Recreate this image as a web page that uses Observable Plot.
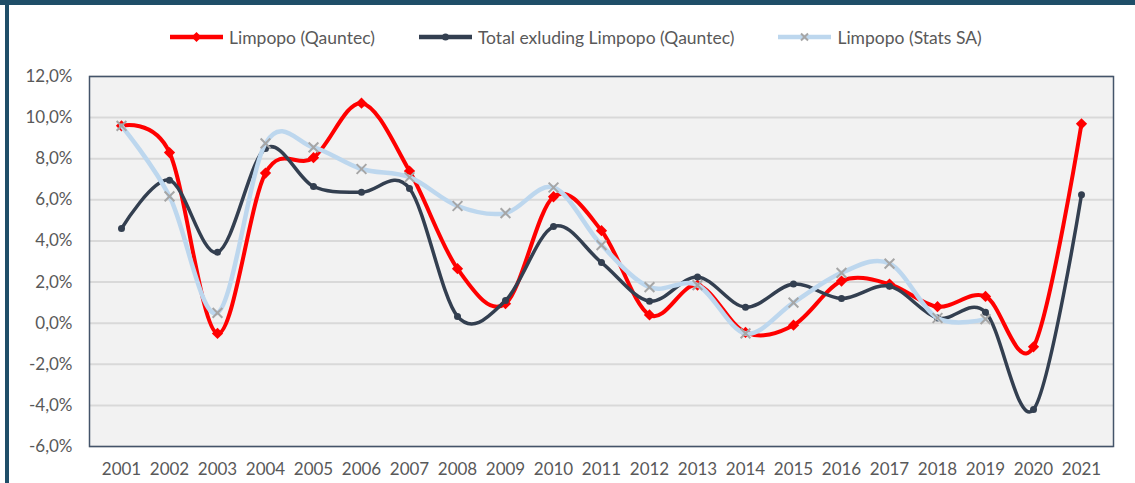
<!DOCTYPE html>
<html>
<head>
<meta charset="utf-8">
<script src="https://cdn.jsdelivr.net/npm/d3@7"></script>
<script src="https://cdn.jsdelivr.net/npm/@observablehq/plot@0.6"></script>
<style>
  html, body { margin: 0; padding: 0; background: #fff; }
  body { width: 1135px; height: 483px; position: relative; overflow: hidden; font-family: Lato, "Open Sans", sans-serif; }
  #topbar { position: absolute; left: 0; top: 0; width: 1135px; height: 5px; background: #1f4e68; }
  #leftbar { position: absolute; left: 5px; top: 0; width: 4px; height: 483px; background: #1f4e68; }
  #legend { position: absolute; left: 170px; top: 26px; height: 22px; display: flex; align-items: center; gap: 44px; font-size: 17.5px; color: #595959; }
  .item { display: flex; align-items: center; gap: 6px; white-space: nowrap; }
  #chart { position: absolute; left: 0; top: 60px; }
</style>
</head>
<body>
<div id="topbar"></div>
<div id="leftbar"></div>
<div id="legend"></div>
<div id="chart"></div>
<script>
const years = ["2001","2002","2003","2004","2005","2006","2007","2008","2009","2010","2011","2012","2013","2014","2015","2016","2017","2018","2019","2020","2021"];
const limpopoQauntec = [9.6, 8.3, -0.5, 7.3, 8.05, 10.7, 7.4, 2.65, 0.95, 6.15, 4.5, 0.4, 1.85, -0.45, -0.1, 2.05, 1.9, 0.8, 1.3, -1.15, 9.7];
const totalExLimpopo = [4.6, 6.95, 3.45, 8.5, 6.65, 6.37, 6.55, 0.33, 1.1, 4.7, 2.95, 1.07, 2.25, 0.78, 1.9, 1.2, 1.8, 0.25, 0.53, -4.2, 6.25];
const limpopoStatsSA = [9.6, 6.17, 0.5, 8.75, 8.55, 7.5, 7.1, 5.7, 5.35, 6.6, 3.8, 1.75, 1.85, -0.5, 1.0, 2.45, 2.9, 0.25, 0.2, null, null];
const seriesNames = ["Limpopo (Qauntec)", "Total exluding Limpopo (Qauntec)", "Limpopo (Stats SA)"];
const yTicks = [-6, -4, -2, 0, 2, 4, 6, 8, 10, 12];

const colors = ["#ff0000", "#333f50", "#bdd7ee"];
const seriesValues = [limpopoQauntec, totalExLimpopo, limpopoStatsSA];
const data = [];
seriesNames.forEach((name, si) => {
  years.forEach((yr, i) => {
    const v = seriesValues[si][i];
    if (v != null) data.push({series: name, year: yr, value: v});
  });
});
const bySeries = name => data.filter(d => d.series === name);

// Legend
const legend = document.getElementById("legend");
const swatchMarker = [
  '<path d="M26.5,-5 L31.5,0 L26.5,5 L21.5,0 Z" fill="#ff0000"/>',
  '<circle cx="26.5" cy="0" r="3.5" fill="#333f50"/>',
  '<path d="M23,-3.5 L30,3.5 M23,3.5 L30,-3.5" stroke="#a6a6a6" stroke-width="2"/>'
];
seriesNames.forEach((name, i) => {
  const it = document.createElement("div");
  it.className = "item";
  it.innerHTML = `<svg width="53" height="14" viewBox="0 -7 53 14"><line x1="0" x2="53" y1="0" y2="0" stroke="${colors[i]}" stroke-width="4.5"/>${swatchMarker[i]}</svg><span>${name}</span>`;
  legend.appendChild(it);
});

const fmt = d => d.toFixed(1).replace(".", ",") + "%";

const chart = Plot.plot({
  width: 1135,
  height: 423,
  marginTop: 16,
  marginBottom: 37,
  marginLeft: 89,
  marginRight: 22,
  style: { fontFamily: "Lato, 'Open Sans', sans-serif", fontSize: "17px", color: "#595959", background: "transparent" },
  x: { type: "point", domain: years, padding: 0.5, label: null },
  y: { domain: [-6, 12], label: null },
  marks: [
    Plot.frame({ fill: "#f2f2f2", stroke: null }),
    Plot.gridY(yTicks, { stroke: "#d9d9d9", strokeOpacity: 1, strokeWidth: 2 }),
    Plot.frame({ stroke: "#44546a", strokeWidth: 1.5 }),
    Plot.axisX({ tickSize: 0, tickPadding: 16, fill: "#595959" }),
    Plot.axisY(yTicks, { tickSize: 0, tickPadding: 17, tickFormat: fmt, fill: "#595959" }),
    Plot.line(bySeries(seriesNames[0]), { x: "year", y: "value", stroke: colors[0], strokeWidth: 4, curve: "cardinal" }),
    Plot.dot(bySeries(seriesNames[0]), { x: "year", y: "value", symbol: "square", rotate: 45, fill: colors[0], r: 4.5 }),
    Plot.line(bySeries(seriesNames[1]), { x: "year", y: "value", stroke: colors[1], strokeWidth: 3.5, curve: "cardinal" }),
    Plot.dot(bySeries(seriesNames[1]), { x: "year", y: "value", symbol: "circle", fill: colors[1], r: 3.5 }),
    Plot.line(bySeries(seriesNames[2]), { x: "year", y: "value", stroke: colors[2], strokeWidth: 4.5, curve: "cardinal" }),
    Plot.dot(bySeries(seriesNames[2]), { x: "year", y: "value", symbol: "times", stroke: "#a6a6a6", strokeWidth: 2, r: 4.5 })
  ]
});
document.getElementById("chart").appendChild(chart);
</script>
</body>
</html>
